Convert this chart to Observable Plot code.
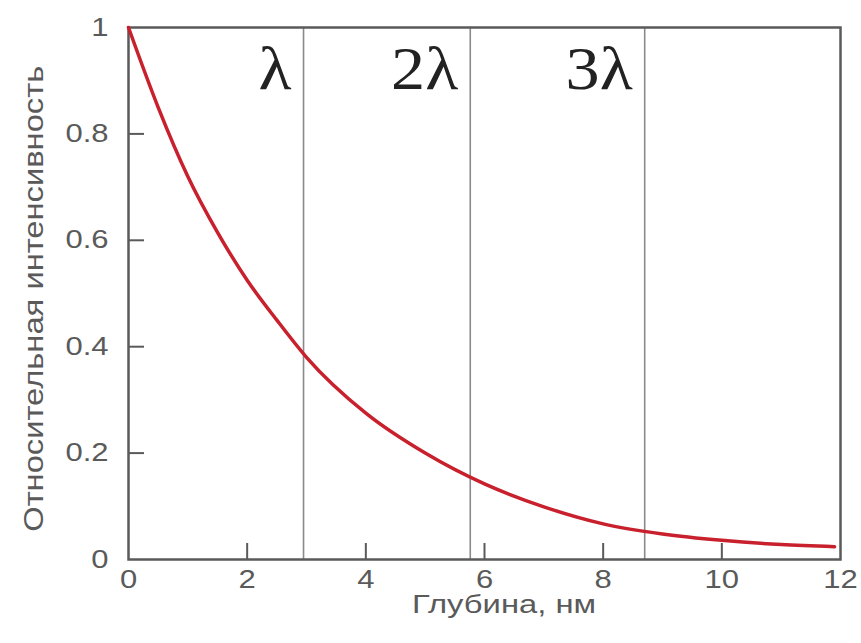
<!DOCTYPE html>
<html>
<head>
<meta charset="utf-8">
<script src="https://cdn.jsdelivr.net/npm/d3@7"></script>
<script src="https://cdn.jsdelivr.net/npm/@observablehq/plot@0.6"></script>
<style>
  html, body { margin: 0; padding: 0; background: #fff; }
  #chart svg { display: block; }
</style>
</head>
<body>
<div id="chart"></div>
<script>
// Relative intensity versus depth (nm)
const depth = [0, 0.5, 1, 1.5, 2, 2.5, 3, 4, 5, 6, 7, 8, 9, 10, 11, 11.9];
const intensity = [1.0, 0.85, 0.72, 0.615, 0.525, 0.45, 0.38, 0.275, 0.20, 0.142, 0.099, 0.067, 0.048, 0.036, 0.028, 0.024];

// Depths of one, two and three attenuation lengths
const lambdaDepth = [2.95, 5.76, 8.70];
const lambdaLabels = ["λ", "2λ", "3λ"];

const xTicks = [0, 2, 4, 6, 8, 10, 12];
const yTicks = [0, 0.2, 0.4, 0.6, 0.8, 1];

const xLabel = "Глубина, нм";
const yLabel = "Относительная интенсивность";

const curve = depth.map((d, i) => ({depth: d, intensity: intensity[i]}));
const lambdas = lambdaDepth.map((d, i) => ({depth: d, label: lambdaLabels[i]}));

const W = 861, H = 643;
const mL = 128, mR = 21, mT = 27, mB = 84;
const plotW = W - mL - mR, plotH = H - mT - mB;
const tickLen = 16;
const sans = "'Liberation Sans', Arial, sans-serif";
const serif = "'Liberation Serif', 'Times New Roman', serif";
const grey = "#5a5a5a";

const chart = Plot.plot({
  width: W,
  height: H,
  marginLeft: mL,
  marginRight: mR,
  marginTop: mT,
  marginBottom: mB,
  style: {fontFamily: sans, background: "#fff", color: grey},
  x: {domain: [0, 12]},
  y: {domain: [0, 1]},
  marks: [
    // attenuation length markers
    Plot.ruleX(lambdas, {x: "depth", stroke: "#8a8a8a", strokeWidth: 1.6}),
    Plot.text(lambdas, {
      x: "depth", text: "label", frameAnchor: "top", textAnchor: "end",
      dx: -12, dy: 17, fontSize: 62, fontFamily: serif, fill: "#222"
    }),
    // inward ticks
    Plot.tickX(xTicks.slice(1, -1), {x: d => d, stroke: grey, strokeWidth: 2, insetTop: plotH - tickLen}),
    Plot.tickY(yTicks.slice(1, -1), {y: d => d, stroke: grey, strokeWidth: 2, insetRight: plotW - tickLen}),
    Plot.axisX({ticks: xTicks, tickSize: 0, tickPadding: 11, fontSize: 25, label: null, fill: grey}),
    Plot.axisY({ticks: yTicks, tickSize: 0, tickPadding: 20, fontSize: 25, label: null, fill: grey, tickFormat: d => String(d)}),
    Plot.text([xLabel], {x: () => 6.33, frameAnchor: "bottom", dy: 53, fontSize: 25, fill: grey}),
    Plot.text([yLabel], {y: () => 0.49, frameAnchor: "left", textAnchor: "middle", dx: -94, rotate: -90, fontSize: 27, fill: grey}),
    Plot.frame({stroke: grey, strokeWidth: 2.5}),
    // intensity curve
    Plot.line(curve, {x: "depth", y: "intensity", curve: "monotone-x", stroke: "#c8202c", strokeWidth: 3.5})
  ]
});

document.getElementById("chart").appendChild(chart);

// The lettering in this figure is set wide; stretch each text along its baseline.
const widen = {axis: 1.24, serif: 1.1};
const labelLength = {[xLabel]: 184, [yLabel]: 466};
d3.select(chart).selectAll("text").each(function () {
  const t = d3.select(this);
  const content = this.textContent;
  const natural = this.getComputedTextLength();
  let target;
  if (content in labelLength) target = labelLength[content];
  else if (lambdaLabels.includes(content)) target = natural * widen.serif;
  else target = natural * widen.axis;
  t.attr("textLength", target).attr("lengthAdjust", "spacingAndGlyphs");
});
</script>
</body>
</html>
